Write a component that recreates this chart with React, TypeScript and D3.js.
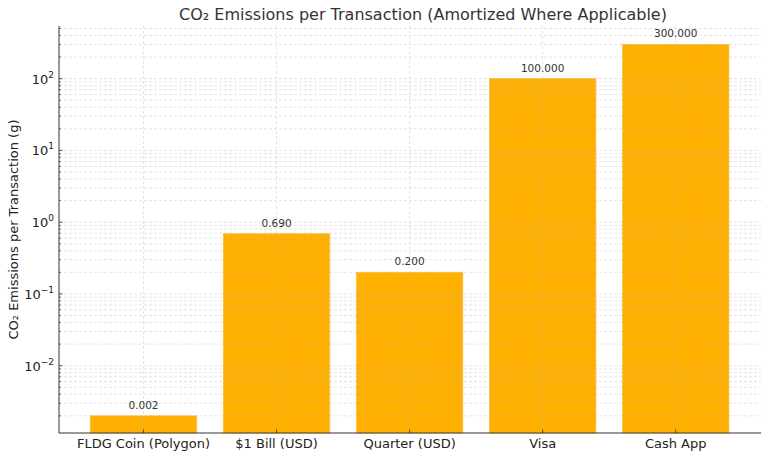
import { useEffect } from "react";
import * as d3 from "d3";

const categories = ["FLDG Coin (Polygon)", "$1 Bill (USD)", "Quarter (USD)", "Visa", "Cash App"];
const emissions = [0.002, 0.69, 0.2, 100, 300];
const majorExponents = [-2, -1, 0, 1, 2];

const W = 768;
const H = 458;
const margin = { top: 26, right: 7, bottom: 25, left: 59 };
const FONT = "'DejaVu Sans', sans-serif";

export default function App() {
  useEffect(() => {
    document.body.style.margin = "0";
  }, []);

  // category index -> bar centre
  const x = d3
    .scaleLinear()
    .domain([0, categories.length - 1])
    .range([143.5, 675.7]);
  const y = d3
    .scaleLog()
    .domain([Math.pow(10, -2.938), Math.pow(10, 2.734)])
    .range([H - margin.bottom, margin.top]);

  const [y0, y1] = y.domain();
  const minorTicks: number[] = [];
  for (let e = -3; e <= 2; e++) {
    for (let m = 2; m <= 9; m++) {
      const v = m * Math.pow(10, e);
      if (v >= y0 && v <= y1) minorTicks.push(v);
    }
  }
  const majorTicks = majorExponents.map((e) => Math.pow(10, e));
  const barW = x(0.8) - x(0);
  const bottom = H - margin.bottom;
  const right = W - margin.right;

  return (
    <svg width={W} height={H} style={{ display: "block", fontFamily: FONT }}>
      {/* bars */}
      {emissions.map((v, i) => (
        <rect
          key={categories[i]}
          x={x(i) - barW / 2}
          y={y(v)}
          width={barW}
          height={bottom - y(v)}
          fill="#ffb000"
          stroke="#ffbf40"
          strokeWidth={0.8}
        />
      ))}

      {/* grid on top of bars */}
      <g stroke="#b0b0b0" strokeWidth={0.6} strokeDasharray="3,2" opacity={0.55}>
        {minorTicks.map((v) => (
          <line key={"mn" + v} x1={margin.left} x2={right} y1={y(v)} y2={y(v)} />
        ))}
        {majorTicks.map((v) => (
          <line key={"mj" + v} x1={margin.left} x2={right} y1={y(v)} y2={y(v)} />
        ))}
        {categories.map((c, i) => (
          <line key={"vx" + c} x1={x(i)} x2={x(i)} y1={margin.top} y2={bottom} />
        ))}
      </g>

      {/* value labels */}
      {emissions.map((v, i) => (
        <text key={"lbl" + i} x={x(i)} y={y(v) - 7} textAnchor="middle" fontSize={10.5} fill="#333">
          {v.toFixed(3)}
        </text>
      ))}

      {/* y axis */}
      <line x1={margin.left} x2={margin.left} y1={margin.top} y2={bottom} stroke="#333" strokeWidth={1} />
      {minorTicks.map((v) => (
        <line key={"mt" + v} x1={margin.left} x2={margin.left + 2} y1={y(v)} y2={y(v)} stroke="#333" strokeWidth={0.6} />
      ))}
      {majorExponents.map((e) => {
        const v = Math.pow(10, e);
        return (
          <g key={"yt" + e}>
            <line x1={margin.left} x2={margin.left + 3.5} y1={y(v)} y2={y(v)} stroke="#333" strokeWidth={0.8} />
            <text x={margin.left - 5} y={y(v) + 5} textAnchor="end" fontSize={13} fill="#222">
              10
              <tspan dy={-6} fontSize={9}>
                {e < 0 ? "\u2212" + Math.abs(e) : String(e)}
              </tspan>
            </text>
          </g>
        );
      })}

      {/* x axis */}
      <line x1={margin.left} x2={right} y1={bottom} y2={bottom} stroke="#333" strokeWidth={1} />
      {categories.map((c, i) => (
        <g key={"xt" + c}>
          <line x1={x(i)} x2={x(i)} y1={bottom} y2={bottom - 3.5} stroke="#333" strokeWidth={0.8} />
          <text x={x(i)} y={bottom + 15} textAnchor="middle" fontSize={13} fill="#222">
            {c}
          </text>
        </g>
      ))}

      {/* axis label */}
      <text
        transform={`translate(18,${(margin.top + bottom) / 2}) rotate(-90)`}
        textAnchor="middle"
        fontSize={13}
        fill="#222"
      >
        CO₂ Emissions per Transaction (g)
      </text>

      {/* title */}
      <text x={423} y={20} textAnchor="middle" fontSize={16} fill="#333">
        CO₂ Emissions per Transaction (Amortized Where Applicable)
      </text>
    </svg>
  );
}
